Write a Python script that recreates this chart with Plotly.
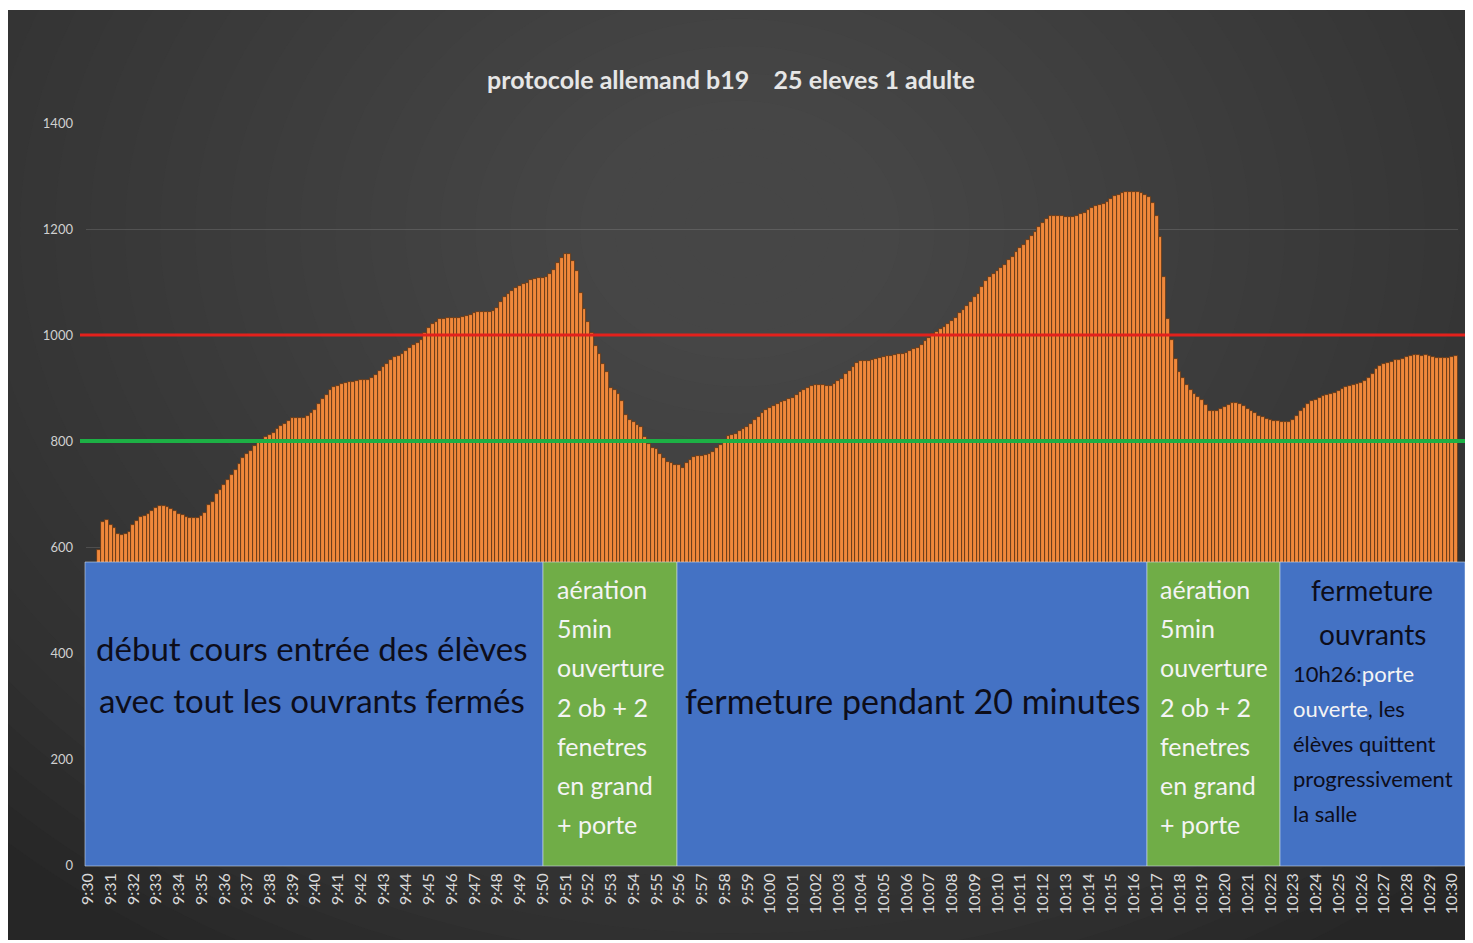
import plotly.graph_objects as go

# ---------------- data ----------------
MINUTE_LABELS = ["9:30", "9:31", "9:32", "9:33", "9:34", "9:35", "9:36", "9:37", "9:38", "9:39",
                 "9:40", "9:41", "9:42", "9:43", "9:44", "9:45", "9:46", "9:47", "9:48", "9:49",
                 "9:50", "9:51", "9:52", "9:53", "9:54", "9:55", "9:56", "9:57", "9:58", "9:59",
                 "10:00", "10:01", "10:02", "10:03", "10:04", "10:05", "10:06", "10:07", "10:08", "10:09",
                 "10:10", "10:11", "10:12", "10:13", "10:14", "10:15", "10:16", "10:17", "10:18", "10:19",
                 "10:20", "10:21", "10:22", "10:23", "10:24", "10:25", "10:26", "10:27", "10:28", "10:29",
                 "10:30"]

# CO2 (ppm), one row per minute, one reading every 10 s
CO2_BY_MINUTE = [
    [None, None, None, 594, 648, 651],
    [641, 635, 624, 623, 624, 629],
    [641, 650, 656, 658, 663, 668],
    [673, 677, 677, 676, 672, 668],
    [663, 660, 656, 654, 654, 654],
    [659, 665, 679, 685, 700, 708],
    [717, 726, 736, 745, 757, 767],
    [775, 782, 791, 797, 802, 808],
    [811, 816, 822, 828, 833, 838],
    [844, 844, 844, 843, 847, 853],
    [858, 870, 879, 887, 897, 901],
    [904, 907, 910, 912, 912, 914],
    [915, 915, 915, 918, 924, 932],
    [939, 945, 952, 958, 960, 964],
    [969, 975, 981, 985, 991, 1003],
    [1014, 1020, 1025, 1030, 1030, 1033],
    [1033, 1033, 1033, 1034, 1036, 1038],
    [1041, 1043, 1043, 1043, 1043, 1046],
    [1051, 1063, 1072, 1077, 1083, 1088],
    [1092, 1096, 1099, 1104, 1105, 1107],
    [1108, 1110, 1115, 1123, 1135, 1145],
    [1153, 1153, 1140, 1120, 1080, 1050],
    [1025, 1003, 980, 965, 946, 930],
    [900, 897, 888, 875, 850, 839],
    [836, 830, 826, 808, 794, 786],
    [784, 775, 768, 761, 758, 755],
    [754, 750, 758, 764, 769, 771],
    [772, 773, 776, 780, 786, 793],
    [799, 809, 812, 813, 818, 822],
    [827, 833, 840, 846, 853, 858],
    [862, 866, 870, 874, 876, 879],
    [881, 886, 892, 896, 900, 904],
    [906, 906, 905, 903, 904, 908],
    [913, 917, 926, 932, 940, 948],
    [951, 951, 951, 952, 954, 956],
    [959, 961, 961, 962, 964, 965],
    [966, 970, 973, 976, 981, 988],
    [995, 1001, 1005, 1011, 1016, 1021],
    [1026, 1032, 1041, 1047, 1054, 1062],
    [1071, 1078, 1090, 1101, 1109, 1115],
    [1120, 1127, 1133, 1141, 1148, 1156],
    [1164, 1170, 1180, 1187, 1195, 1204],
    [1212, 1219, 1224, 1224, 1224, 1224],
    [1223, 1222, 1222, 1225, 1229, 1231],
    [1235, 1239, 1243, 1246, 1248, 1251],
    [1257, 1262, 1265, 1268, 1270, 1270],
    [1270, 1270, 1267, 1264, 1261, 1250],
    [1225, 1185, 1110, 1030, 990, 955],
    [930, 918, 905, 896, 888, 883],
    [878, 868, 856, 856, 857, 861],
    [865, 868, 871, 872, 870, 866],
    [861, 857, 852, 848, 845, 842],
    [839, 837, 837, 836, 835, 836],
    [840, 848, 856, 863, 869, 875],
    [878, 882, 885, 887, 889, 891],
    [895, 898, 901, 904, 906, 908],
    [910, 913, 918, 926, 935, 941],
    [945, 948, 950, 952, 953, 955],
    [958, 960, 962, 962, 961, 962],
    [961, 958, 956, 956, 956, 957],
    [959, 960],
]

THRESHOLD_HIGH = 1000
THRESHOLD_LOW = 800
Y_TICKS = [0, 200, 400, 600, 800, 1000, 1200, 1400]
Y_MAX = 1400
TITLE = "protocole allemand b19\u00a0\u00a0\u00a0 25 eleves 1 adulte"

# ---------------- build series ----------------
values = [v for row in CO2_BY_MINUTE for v in row]
x_idx = list(range(len(values)))
labels = []
for m, row in enumerate(CO2_BY_MINUTE):
    for s in range(len(row)):
        labels.append(f"{MINUTE_LABELS[m]}:{s*10:02d}")
tickvals = [m * 6 for m in range(len(MINUTE_LABELS))]

# page offset (body margin) and figure geometry in page pixels
OX, OY = 8, 8
W, H = 1465, 935
L, R, T, B = 86, 1458, 123, 865  # plot area, page pixels


def px(xp):
    return (xp - L) / (R - L)


def py(yp):
    return (B - yp) / (B - T)


fig = go.Figure()
fig.add_trace(go.Bar(
    x=x_idx, y=values, customdata=labels,
    marker=dict(color="#F0883B", line=dict(color="#5a3416", width=0.8)),
    hovertemplate="%{customdata}: %{y}<extra></extra>",
))

shapes = []
# dark panel with a soft radial light
PX0, PX1, PY0, PY1 = 8, 1468, 10, 940
shapes.append(dict(type="rect", xref="paper", yref="paper", x0=px(PX0), x1=px(PX1), y0=py(PY1), y1=py(PY0),
                   fillcolor="#262626", line=dict(width=0), layer="below"))
cx, cy = 740, 230
N = 30
for k in range(N):
    f = 1 - k / N
    hw, hh = 1050 * f + 20, 820 * f + 20
    shapes.append(dict(type="circle", xref="paper", yref="paper",
                       x0=px(cx - hw), x1=px(cx + hw), y0=py(cy + hh), y1=py(cy - hh),
                       fillcolor="#5a5a5a", opacity=0.045, line=dict(width=0), layer="below"))
# white page margins around the panel
for (a0, a1, b0, b1) in [(-400, PX0, -400, 1400), (PX1, 2000, -400, 1400),
                         (-400, 2000, -400, PY0), (-400, 2000, PY1, 1400)]:
    shapes.append(dict(type="rect", xref="paper", yref="paper", x0=px(a0), x1=px(a1), y0=py(b1), y1=py(b0),
                       fillcolor="white", line=dict(width=0), layer="below"))

# threshold lines
y_hi = py(B - (B - T) * THRESHOLD_HIGH / Y_MAX)
y_lo = py(B - (B - T) * THRESHOLD_LOW / Y_MAX)
shapes.append(dict(type="line", xref="paper", yref="paper", x0=px(80), x1=px(1468), y0=y_hi, y1=y_hi,
                   line=dict(color="#E3211C", width=3), layer="above"))
shapes.append(dict(type="line", xref="paper", yref="paper", x0=px(80), x1=px(1468), y0=y_lo, y1=y_lo,
                   line=dict(color="#1DB045", width=4), layer="above"))

# annotation boxes
BLUE, GREEN = "#4472C4", "#70AD47"
boxes = [(85, 543, BLUE), (543, 677, GREEN), (677, 1147, BLUE), (1147, 1280, GREEN), (1280, 1465, BLUE)]
for x0, x1, c in boxes:
    shapes.append(dict(type="rect", xref="paper", yref="paper", x0=px(x0), x1=px(x1), y0=py(866), y1=py(562),
                       fillcolor=c, line=dict(color="#cfd8e8", width=0.6), layer="above"))

annotations = []
FONT = "Lato, 'Noto Sans', sans-serif"
DARK = "#0d0d1a"
WHITE = "#f4f4f4"


def txt(x, y, s, size, color, anchor="center"):
    annotations.append(dict(x=px(x), y=py(y), xref="paper", yref="paper", text=s, showarrow=False,
                            xanchor=anchor, yanchor="middle", font=dict(family=FONT, size=size, color=color)))


txt(731, 79, "<b>" + TITLE + "</b>", 25, "#e6e6e6")
txt(312, 648, "début cours entrée des élèves", 33, DARK)
txt(312, 700, "avec tout les ouvrants fermés", 33, DARK)
txt(912, 700, "fermeture pendant 20 minutes", 34, DARK)
green_lines = ["aération", "5min", "ouverture", "2 ob + 2", "fenetres", "en grand", "+ porte"]
for k, s in enumerate(green_lines):
    yy = 589 + 39.2 * k
    txt(555, yy, s, 25, WHITE, "left")
    txt(1158, yy, s, 25, WHITE, "left")
txt(1372, 590, "fermeture", 28, DARK)
txt(1372, 634, "ouvrants", 28, DARK)
small = ["10h26:<span style='color:#f4f4f4'>porte</span>",
         "<span style='color:#f4f4f4'>ouverte</span>, les",
         "élèves quittent", "progressivement", "la salle"]
for k, s in enumerate(small):
    txt(1291, 673 + 35.2 * k, s, 22, DARK, "left")

fig.update_layout(
    width=W, height=H,
    margin=dict(l=L - OX, r=W - (R - OX), t=T - OY, b=H - (B - OY), pad=0),
    paper_bgcolor="white", plot_bgcolor="rgba(0,0,0,0)",
    bargap=0, showlegend=False,
    shapes=shapes, annotations=annotations,
    xaxis=dict(range=[-0.5, 361.5], tickmode="array", tickvals=tickvals, ticktext=MINUTE_LABELS,
               tickangle=-90, showgrid=False, zeroline=False, showline=False, ticks="",
               ticklabelstandoff=4,
               tickfont=dict(family=FONT, size=16, color="#d9d9d9")),
    yaxis=dict(range=[0, Y_MAX], tickvals=Y_TICKS, showgrid=True, gridcolor="rgba(255,255,255,0.13)",
               gridwidth=1, zeroline=False, showline=False, ticks="", ticklabelstandoff=12,
               tickfont=dict(family=FONT, size=13, color="#d0d0d0")),
)

fig.write_html("out.html")
